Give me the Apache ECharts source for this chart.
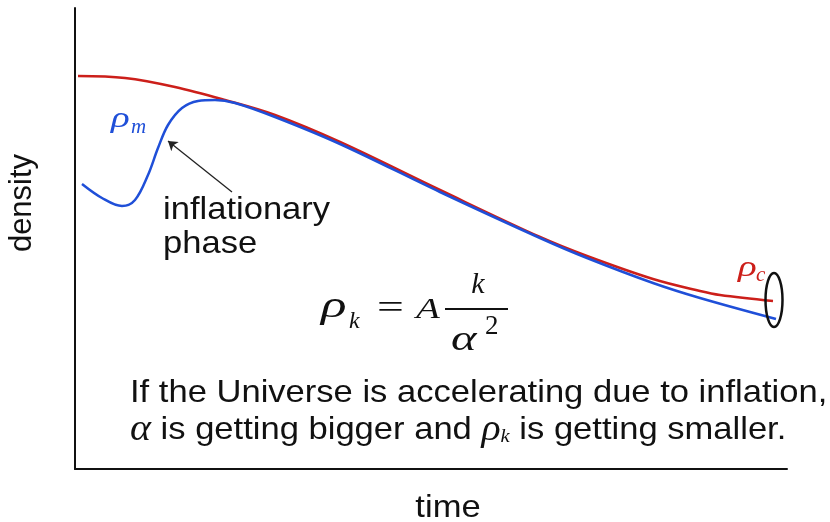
<!DOCTYPE html>
<html>
<head>
<meta charset="utf-8">
<script src="https://cdn.jsdelivr.net/npm/echarts@6/dist/echarts.min.js"></script>
<style>html,body{margin:0;padding:0;background:#fff;}#c{width:830px;height:522px;}</style>
</head>
<body>
<div id="c"></div>
<script>
// time (arbitrary units), density (arbitrary units)
const criticalDensity = [[3,393],[50,391],[100,382],[150,369],[200,354],[265,327],[365,279],[465,232],[512,213],[578,190],[625,178],[645,174],[698,168]];
const matterDensity = [[7,285],[27,271],[47,263],[60,269],[73,294],[83,321],[93,344],[107,361],[123,368],[140,369],[160,366],[200,352],[265,325],[365,277],[465,231],[512,211],[578,186],[625,171],[701,150]];
const ellipse = [[699,169]];
const arrow = [[157,277],[93,328]];
const xLabel = 'time';
const yLabel = 'density';

const SANS = 'Liberation Sans, Arial, sans-serif';
const SERIF = 'Liberation Serif, Times New Roman, serif';
const SX = 1.08;

function txt(text, x, y, o) {
  o = o || {};
  const va = o.va || 'middle';
  const al = o.align || 'left';
  return {
    type: 'text', x: x, y: y, scaleX: o.sx || 1, scaleY: 1, rotation: o.rot || 0,
    style: {
      text: text, x: 0, y: 0,
      fontSize: o.size || 32, fontFamily: o.family || SANS, fontStyle: o.style || 'normal',
      fill: o.color || '#111', textAlign: al, align: al,
      textVerticalAlign: va, verticalAlign: va, rich: o.rich
    }
  };
}

const chart = echarts.init(document.getElementById('c'), null, {renderer: 'canvas'});
chart.setOption({
  animation: false,
  backgroundColor: '#fff',
  grid: {left: 75, right: 43, top: 8, bottom: 53},
  xAxis: {type: 'value', min: 0, max: 712, axisLine: {show: true, lineStyle: {color: '#111', width: 2}},
          axisTick: {show: false}, axisLabel: {show: false}, splitLine: {show: false}},
  yAxis: {type: 'value', min: 0, max: 461, axisLine: {show: true, lineStyle: {color: '#111', width: 2}},
          axisTick: {show: false}, axisLabel: {show: false}, splitLine: {show: false}},
  series: [
    {type: 'line', name: 'rho_c', data: criticalDensity, showSymbol: false, smooth: 0.35,
     lineStyle: {color: '#cc1f1a', width: 2.5}, z: 3},
    {type: 'line', name: 'rho_m', data: matterDensity, showSymbol: false, smooth: 0.35,
     lineStyle: {color: '#1f4fd8', width: 2.5}, z: 4},
    {type: 'custom', data: ellipse, z: 5, silent: true,
     renderItem: function (params, api) {
       const p = api.coord([api.value(0), api.value(1)]);
       return {type: 'ellipse', shape: {cx: p[0], cy: p[1], rx: 8.5, ry: 27},
               style: {fill: 'none', stroke: '#111', lineWidth: 2.5}};
     }},
    {type: 'lines', coordinateSystem: 'cartesian2d', data: [{coords: arrow}],
     symbol: ['none', 'arrow'], symbolSize: 9,
     lineStyle: {color: '#222', width: 1.3, opacity: 1}, z: 5, silent: true}
  ],
  graphic: [
    txt(yLabel, 22, 203, {size: 31, rot: Math.PI / 2, align: 'center'}),
    txt(xLabel, 448, 508, {size: 32, sx: SX, align: 'center'}),
    txt('inflationary', 163, 210, {size: 32, sx: SX}),
    txt('phase', 163, 244, {size: 32, sx: SX}),
    txt('If the Universe is accelerating due to inflation,', 130, 393, {size: 32, sx: SX}),
    txt('{g|α} is getting bigger and {g|ρ}{s|k} is getting smaller.', 130, 430, {size: 32, sx: SX,
      rich: {g: {fontFamily: SERIF, fontStyle: 'italic', fontSize: 37, fill: '#111'},
             s: {fontFamily: SERIF, fontStyle: 'italic', fontSize: 19, fill: '#111', padding: [14, 0, 0, 0]}}}),
    // rho_m label
    txt('ρ', 111, 119, {size: 30, sx: 1.3, family: SERIF, style: 'italic', color: '#1f4fd8'}),
    txt('m', 131, 127, {size: 21, family: SERIF, style: 'italic', color: '#1f4fd8'}),
    // rho_c label
    txt('ρ', 738, 268, {size: 30, sx: 1.3, family: SERIF, style: 'italic', color: '#cc1f1a'}),
    txt('c', 756, 275, {size: 21, family: SERIF, style: 'italic', color: '#cc1f1a'}),
    // formula
    txt('ρ', 321, 307, {size: 38, sx: 1.4, family: SERIF, style: 'italic'}),
    txt('k', 349, 322, {size: 24, family: SERIF, style: 'italic'}),
    txt('=', 377, 309, {size: 34, sx: 1.4, family: SERIF}),
    txt('A', 416, 310, {size: 30, sx: 1.3, family: SERIF, style: 'italic'}),
    {type: 'line', shape: {x1: 445, y1: 309, x2: 508, y2: 309}, style: {stroke: '#111', lineWidth: 2}},
    txt('k', 478, 285, {size: 30, family: SERIF, style: 'italic', align: 'center'}),
    txt('α', 451, 341, {size: 36, sx: 1.35, family: SERIF, style: 'italic'}),
    txt('2', 485, 327, {size: 27, family: SERIF})
  ]
});
</script>
</body>
</html>
